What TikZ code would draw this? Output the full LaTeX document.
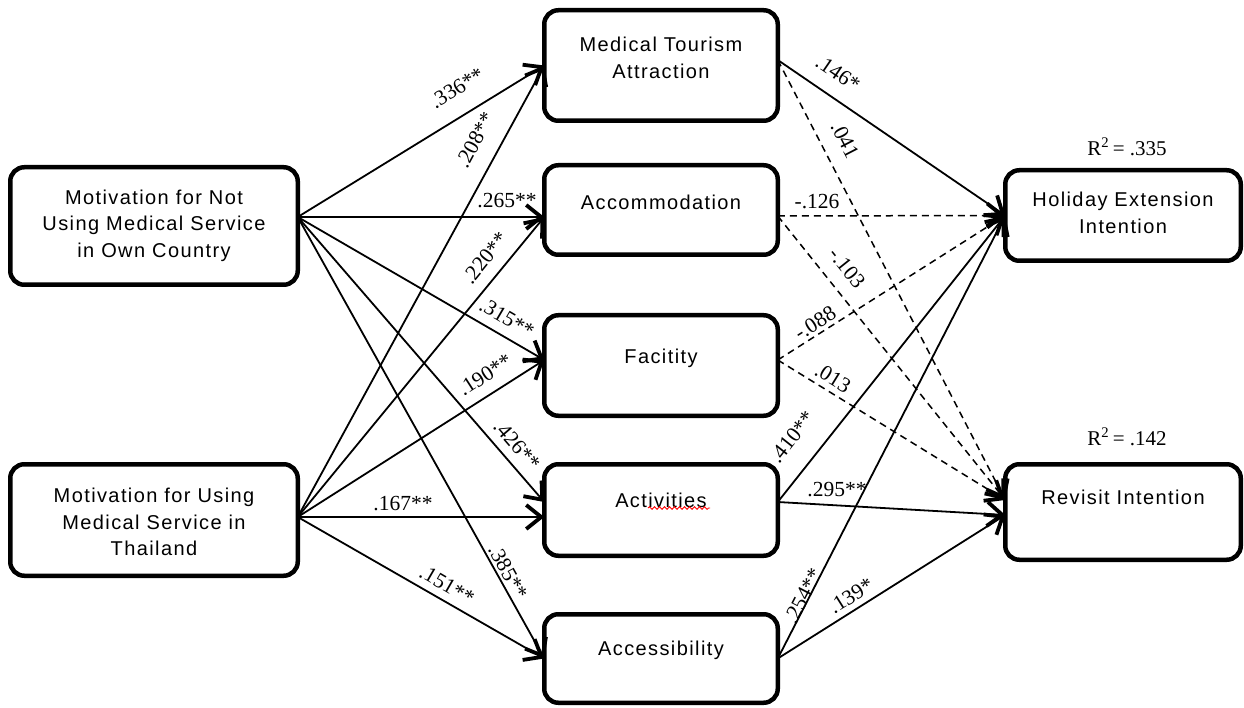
\documentclass[tikz,border=0pt]{standalone}
\usepackage{fontspec}
\setmainfont{Liberation Serif}
\newfontfamily\boxfont[LetterSpace=7]{Liberation Sans}
\usetikzlibrary{arrows.meta,calc,decorations.pathmorphing}
\begin{document}
\begin{tikzpicture}[x=1pt,y=-1pt,
  box/.style={draw, line width=4.5pt, rounded corners=14pt, minimum width=233.5pt, inner sep=0pt, outer sep=0pt},
  boxtext/.style={align=center, font=\boxfont\fontsize{20}{26.5}\selectfont, inner sep=0pt},
  lab/.style={font=\fontsize{21.5}{24}\selectfont, inner sep=0pt},
  rsq/.style={font=\fontsize{21}{24}\selectfont, inner sep=0pt},
  conn/.style={line width=1.8pt, -{Straight Barb[length=15pt,width=24pt,line width=3.8pt]}},
  dconn/.style={conn, dash pattern=on 7pt off 5pt, line width=1.5pt}
]
\useasboundingbox (0,0) rectangle (1244,708);

% boxes
\node[box, minimum width=287.5pt, minimum height=117.5pt] (nu) at (154,226) {};
\node[box, minimum width=287.5pt, minimum height=111.5pt] (th) at (154,520) {};
\node[box, minimum height=110.5pt] (mta) at (661,65.5) {};
\node[box, minimum height=89.5pt] (acc) at (661,210) {};
\node[box, minimum height=100.5pt] (fac) at (661,365.5) {};
\node[box, minimum height=91.5pt] (act) at (661,510) {};
\node[box, minimum height=88.5pt] (accs) at (661,658.5) {};
\node[box, minimum width=235.5pt, minimum height=90.5pt] (hol) at (1123,215.5) {};
\node[box, minimum width=235.5pt, minimum height=95.5pt] (rev) at (1123,512) {};

% box texts
\node[boxtext] (nuT) at (154,225.5) {Motivation for Not\\Using Medical Service\\in Own Country};
\node[boxtext] (thT) at (154,522) {Motivation for Using\\Medical Service in\\Thailand};
\node[boxtext] (mtaT) at (661,58) {Medical Tourism\\Attraction};
\node[boxtext] (accT) at (661,202) {Accommodation};
\node[boxtext] (facT) at (661,358) {Facitity};
\node[boxtext] (actT) at (661,500) {Activities};
\node[boxtext] (accsT) at (661,650) {Accessibility};
\node[boxtext] (holT) at (1123,213) {Holiday Extension\\Intention};
\node[boxtext] (revT) at (1123,497) {Revisit Intention};
\draw[red, line width=0.9pt, decorate, decoration={snake, segment length=5pt, amplitude=1.3pt}] (648,508) -- (710,508);

% R squared
\node[rsq] (r1) at (1127,147) {R\textsuperscript{2}\,= .335};
\node[rsq] (r2) at (1127,437) {R\textsuperscript{2}\,= .142};

% anchor coordinates
\coordinate (nuO) at ($(nu.east)+(0,-9)$);
\coordinate (thO) at ($(th.east)+(0,-3)$);
\coordinate (mtaI) at (mta.west);
\coordinate (accI) at ($(acc.west)+(0,7)$);
\coordinate (facI) at ($(fac.west)+(0,-5.5)$);
\coordinate (actI1) at ($(act.west)+(0,-8)$);
\coordinate (actI2) at ($(act.west)+(0,7)$);
\coordinate (accsI) at (accs.west);
\coordinate (mtaO) at ($(mta.east)+(0,-5.5)$);
\coordinate (accO) at ($(acc.east)+(0,6)$);
\coordinate (facO) at ($(fac.east)+(0,-5.5)$);
\coordinate (actO) at ($(act.east)+(0,-8)$);
\coordinate (accsO) at (accs.east);
\coordinate (holI) at (hol.west);
\coordinate (revI1) at ($(rev.west)+(0,-12)$);
\coordinate (revI2) at ($(rev.west)+(0,3)$);

% left connectors
\draw[conn] (nuO) -- (mtaI);
\draw[conn] (thO) -- (mtaI);
\draw[conn] (nuO) -- (accI);
\draw[conn] (thO) -- (accI);
\draw[conn] (nuO) -- (facI);
\draw[conn] (thO) -- (facI);
\draw[conn] (nuO) -- (actI1);
\draw[conn] (thO) -- (actI2);
\draw[conn] (nuO) -- (accsI);
\draw[conn] (thO) -- (accsI);

% right connectors
\draw[conn] (mtaO) -- (holI);
\draw[dconn] (mtaO) -- (revI1);
\draw[dconn] (accO) -- (holI);
\draw[dconn] (accO) -- (revI1);
\draw[dconn] (facO) -- (holI);
\draw[dconn] (facO) -- (revI1);
\draw[conn] (actO) -- (holI);
\draw[conn] (actO) -- (revI2);
\draw[conn] (accsO) -- (holI);
\draw[conn] (accsO) -- (revI2);

% left labels
\node[lab, rotate=31.8] (l1) at (457,88) {.336**};
\node[lab, rotate=61.6] (l2) at (475,140) {.208**};
\node[lab] (l3) at (507,201) {.265**};
\node[lab, rotate=50.9] (l4) at (485,258) {.220**};
\node[lab, rotate=-30.4] (l5) at (507,318) {.315**};
\node[lab, rotate=32.8] (l6) at (485,375) {.190**};
\node[lab, rotate=-49.4] (l7) at (517,445) {.426**};
\node[lab] (l8) at (403,504) {.167**};
\node[lab, rotate=-61.1] (l9) at (508,572) {.385**};
\node[lab, rotate=-30.1] (l10) at (447,585) {.151**};

% right labels
\node[lab, rotate=-34.4] (r11) at (838,73) {.146*};
\node[lab, rotate=-62.7] (r12) at (845,140) {.041};
\node[lab] (r13) at (817,202) {-.126};
\node[lab, rotate=-51.3] (r14) at (847,268) {-.103};
\node[lab, rotate=32.4] (r15) at (815,323) {-.088};
\node[lab, rotate=-31.6] (r16) at (833,378) {.013};
\node[lab, rotate=51.6] (r17) at (792,437) {.410**};
\node[lab] (r18) at (837,490) {.295**};
\node[lab, rotate=62.8] (r19) at (803,596) {.254**};
\node[lab, rotate=32.2] (r20) at (851,596) {.139*};
\end{tikzpicture}
\end{document}
